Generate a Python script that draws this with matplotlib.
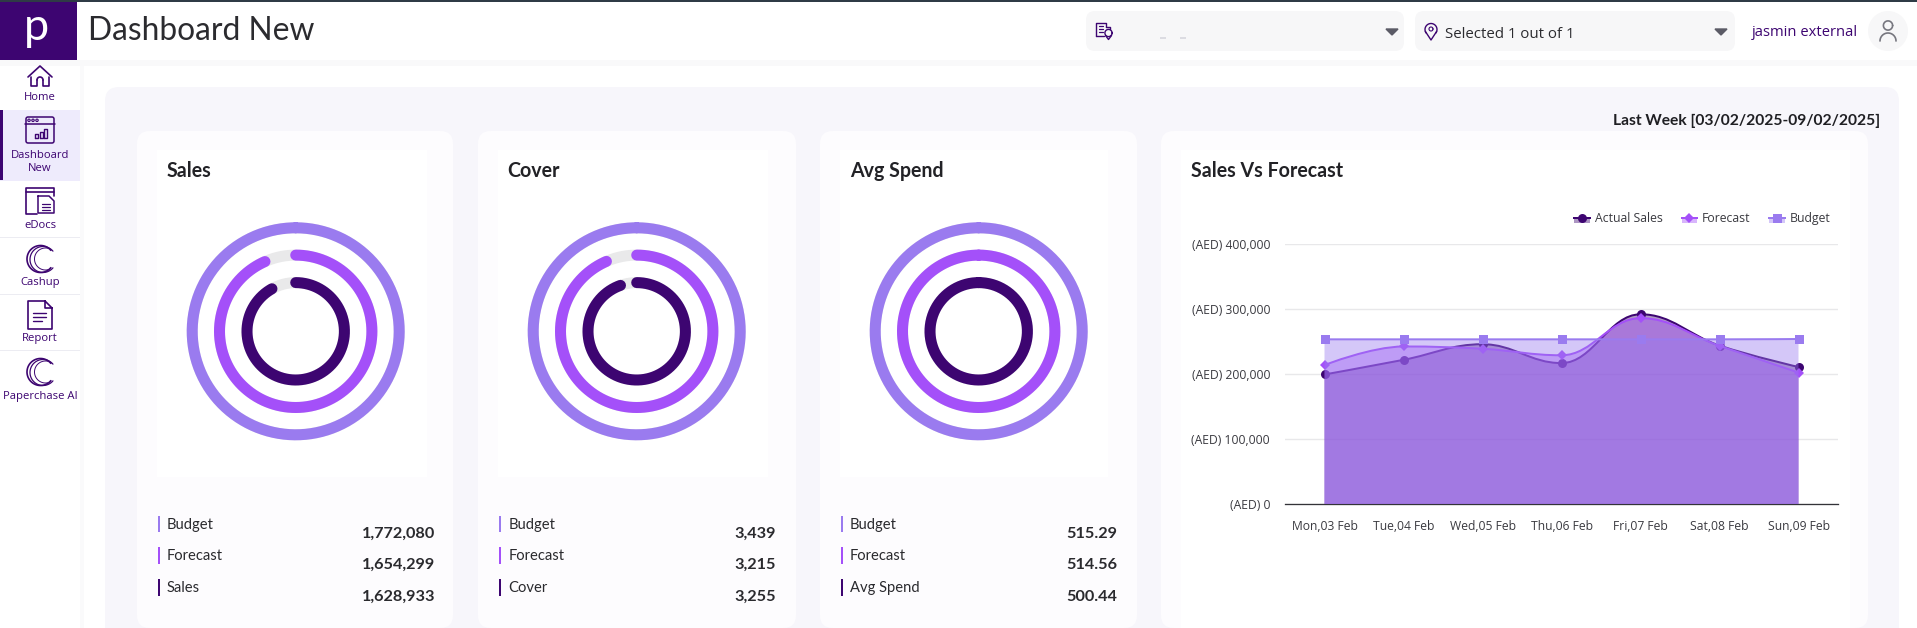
import numpy as np
import matplotlib
matplotlib.use("Agg")
import matplotlib.pyplot as plt
from matplotlib.path import Path
from matplotlib.patches import PathPatch, FancyBboxPatch, Rectangle, Circle
from matplotlib.lines import Line2D
from matplotlib.legend_handler import HandlerBase
from matplotlib.ticker import FuncFormatter

W, H = 1917, 628
PURPLE = "#3d0571"; VIOLET = "#a450f9"; LAV = "#9a7bef"; INK = "#2b2b2f"

# ---------- data ----------
days = ["Mon,03 Feb", "Tue,04 Feb", "Wed,05 Feb", "Thu,06 Feb", "Fri,07 Feb", "Sat,08 Feb", "Sun,09 Feb"]
actual_sales = [199500, 222000, 246000, 217000, 292000, 244000, 211000]
forecast = [214000, 242500, 239000, 229000, 286000, 243500, 202500]
budget = [253500, 253500, 253500, 253500, 253500, 253500, 254000]
y_ticks = [0, 100000, 200000, 300000, 400000]

card_titles = ["Sales", "Cover", "Avg Spend"]
row_labels = [["Budget", "Forecast", "Sales"], ["Budget", "Forecast", "Cover"], ["Budget", "Forecast", "Avg Spend"]]
row_values = [["1,772,080", "1,654,299", "1,628,933"], ["3,439", "3,215", "3,255"], ["515.29", "514.56", "500.44"]]
ring_percents = [[100, 93.4, 91.9], [100, 93.5, 94.6], [100, 100, 100]]
nav_items = ["Home", "Dashboard\nNew", "eDocs", "Cashup", "Report", "Paperchase AI"]

plt.rcParams['font.family'] = ['Lato', 'DejaVu Sans']
fig = plt.figure(figsize=(W / 100, H / 100), dpi=100, facecolor="white")

def px(v):
    return v * 0.72

def axes_px(x0, y0, x1, y1, **kw):
    return fig.add_axes([x0 / W, 1 - y1 / H, (x1 - x0) / W, (y1 - y0) / H], **kw)

bg = axes_px(0, 0, W, H)
bg.set_xlim(0, W); bg.set_ylim(H, 0); bg.axis("off")

def rect(x0, y0, x1, y1, c, z=1, alpha=None):
    bg.add_patch(Rectangle((x0, y0), x1 - x0, y1 - y0, fc=c, ec="none", zorder=z, alpha=alpha))

def rrect(x0, y0, x1, y1, r, c, z=1):
    bg.add_patch(FancyBboxPatch((x0 + r, y0 + r), x1 - x0 - 2 * r, y1 - y0 - 2 * r,
                                boxstyle=f"round,pad={r},rounding_size={r}", fc=c, ec="none", zorder=z))

def stroke(xs, ys, lw=1.1, c=PURPLE, z=6, **kw):
    bg.plot(xs, ys, color=c, lw=lw, zorder=z, solid_capstyle="round", solid_joinstyle="round", **kw)

def text(x, y, s, size, c=INK, ha="left", weight="normal", family=None, z=7):
    bg.text(x, y, s, fontsize=px(size), color=c, ha=ha, va="center", fontweight=weight,
            family=family or ['Lato', 'DejaVu Sans'], zorder=z)

# ---------- page chrome ----------
rect(0, 60, W, 66, "#f6f6f8", 1, 0.6)
rect(80, 66, 84, H, "#f8f8fa", 1, 0.7)
rrect(105, 87, 1899, 700, 14, "#f7f6fb", 2)
for x0, x1 in [(137, 453), (478, 796), (820, 1137), (1161, 1868)]:
    rrect(x0, 131, x1, 628, 13, "#fdfcfe", 3)
for x0, x1 in [(157, 427), (498, 768), (840, 1108)]:
    rect(x0, 150, x1, 477, "#ffffff", 3.5)
rect(1181, 150, 1850, 628, "#ffffff", 3.5)

rect(0, 0, W, 60, "white", 4)
rect(0, 0, W, 2, "#2f3b46", 5)
rect(0, 2, 77, 60, PURPLE, 5)
text(36, 28, "p", 45, "white", "center", family=['Lato'])
text(88, 30.5, "Dashboard New", 31.8, INK)

rrect(1086, 11, 1404, 51, 9, "#f7f7f8", 5)
rrect(1415, 11, 1735, 51, 9, "#f7f7f8", 5)
text(1445, 34.5, "Selected 1 out of 1", 15, INK, family=['Open Sans'])
text(1752, 33, "jasmin external", 14.8, PURPLE, family=['Open Sans'])
bg.add_patch(Circle((1888, 31), 20, fc="#f7f7f8", ec="none", zorder=5))
for xc in (1392, 1721):
    bg.fill([xc - 6, xc + 6, xc], [29, 29, 35], color="#5b5b66", zorder=6)
for xc in (1163, 1183):
    rect(xc - 3, 37, xc + 3, 38.5, "#dcdce2", 6)
# building and pin icons
stroke([1096, 1096, 1106, 1106], [36, 23, 23, 27], 1.0)
stroke([1106, 1110, 1110], [27, 27, 29], 1.0)
stroke([1096, 1104], [36, 36], 1.0)
for yy in (26, 29, 32):
    stroke([1099, 1103], [yy, yy], 0.9)
t = np.linspace(0, 2 * np.pi, 30)
stroke(1108.5 + 3.6 * np.cos(t), 33 + 3.6 * np.sin(t), 1.0)
stroke([1105.5, 1108.5, 1111.5], [35.5, 39.5, 35.5], 1.0)
t = np.linspace(-0.2 * np.pi, 1.2 * np.pi, 30)
stroke(1431 + 6 * np.cos(t), 29.5 - 6 * np.sin(t), 1.0)
stroke([1425.4, 1431, 1436.6], [31.5, 40, 31.5], 1.0)
t = np.linspace(0, 2 * np.pi, 30)
stroke(1431 + 2 * np.cos(t), 29 + 2 * np.sin(t), 0.8)
# avatar
t = np.linspace(0, 2 * np.pi, 40)
stroke(1888 + 4.6 * np.cos(t), 25.5 + 4.6 * np.sin(t), 1.2, "#77777f")
t = np.linspace(np.pi, 2 * np.pi, 30)
stroke(1888 + 8 * np.cos(t), 41 + 8 * np.sin(t), 1.2, "#77777f")

text(1880, 120.5, "Last Week [03/02/2025-09/02/2025]", 15.6, "#1f1f23", "right", "bold")

# ---------- sidebar ----------
rect(0, 110, 80, 181, "#eeebfc", 2)
rect(0, 110, 3, 180, PURPLE, 3)
for yy in (237, 294, 350):
    rect(0, yy, 80, yy + 1, "#ececf2", 2)
nav_y = [98, 162, 226, 283, 339, 396]
for s, yy in zip(nav_items, nav_y):
    bg.text(40, yy, s, fontsize=px(11.3), color=PURPLE, ha="center", va="center", linespacing=1.25,
            family=['Open Sans'], zorder=7)
# home
stroke([28, 40, 52], [77, 66, 77], 1.2)
stroke([31, 31, 37, 37], [77, 86, 86, 80], 1.2)
stroke([49, 49, 43, 43], [77, 86, 86, 80], 1.2)
t = np.linspace(0, np.pi, 12)
stroke(40 + 3 * np.cos(t), 80 - 3 * np.sin(t), 1.2)
# dashboard
bg.add_patch(FancyBboxPatch((26, 117), 28, 26, boxstyle="round,pad=0,rounding_size=2", fc="none", ec=PURPLE, lw=1.1, zorder=6))
stroke([25, 55], [124, 124])
for x_ in (29, 33, 37):
    bg.add_patch(Circle((x_, 120.3), 1.2, fc="none", ec=PURPLE, lw=0.8, zorder=6))
for x_, h_ in ((35, 4), (40, 6), (44, 9)):
    stroke([x_, x_, x_ + 2.5, x_ + 2.5, x_], [137.5, 137.5 - h_, 137.5 - h_, 137.5, 137.5], 1)
# edocs
stroke([37, 26, 26, 54, 54], [214, 214, 188, 188, 196], 1.2)
stroke([26, 54], [192, 192], 1.2)
stroke([38, 49, 54, 54, 38, 38], [196, 196, 201, 213, 213, 196], 1.1)
for yy in (204, 207, 210):
    stroke([42, 50], [yy, yy], 0.9)
# C marks
for yc in (259, 372):
    t = np.radians(np.linspace(40, 320, 60))
    stroke(40.5 + 13.5 * np.cos(t), yc - 13.5 * np.sin(t), 1.2)
    stroke(43 + 13 * np.cos(t), yc - 13 * np.sin(t) + 0.5, 0.9)
    stroke(45.5 + 11 * np.cos(t[8:-8]), yc - 11 * np.sin(t[8:-8]), 0.7)
# report
stroke([45, 28, 28, 52, 52, 45, 45, 52], [301, 301, 329, 329, 308, 301, 308, 308], 1.2)
for yy, x1_ in ((313, 46), (317, 46), (321, 42)):
    stroke([33, x1_], [yy, yy], 1)

# ---------- KPI cards ----------
title_x = [167, 507.5, 850]
label_x = [166.8, 508.2, 849.7]
bar_x = [158, 499, 841]
value_x = [435, 776, 1117]
ring_cx = [295.7, 636.7, 978.7]
ring_cy = 331.3
row_lab_y = [525, 556, 588]
row_val_y = [534, 565, 597]
row_bar = [(516, 532), (547, 564), (579, 596)]
ring_colors = [LAV, VIOLET, PURPLE]
ring_radii = [103.5, 76.2, 48.7]
ring_px = 11

for i in range(3):
    text(title_x[i], 171, card_titles[i], 19.6, "#222226", weight="bold")
    for j in range(3):
        rect(bar_x[i], row_bar[j][0], bar_x[i] + 2, row_bar[j][1], ring_colors[j], 5)
        text(label_x[i], row_lab_y[j], row_labels[i][j], 14.7, "#2a2a2e")
        text(value_x[i], row_val_y[j], row_values[i][j], 16.2, "#2a2a2e", "right", "bold")
    a = axes_px(ring_cx[i] - 120, ring_cy - 120, ring_cx[i] + 120, ring_cy + 120)
    a.set_xlim(-120, 120); a.set_ylim(-120, 120); a.axis("off"); a.patch.set_alpha(0)
    for pct, r, c in zip(ring_percents[i], ring_radii, ring_colors):
        th = np.linspace(0, 2 * np.pi, 360)
        a.plot(r * np.sin(th), r * np.cos(th), color="#e9e9ea", lw=px(ring_px), solid_capstyle="butt")
        th = np.linspace(0, 2 * np.pi * pct / 100, 360)
        a.plot(r * np.sin(th), r * np.cos(th), color=c, lw=px(ring_px), solid_capstyle="round")

# ---------- Sales vs Forecast ----------
text(1191, 171, "Sales Vs Forecast", 19.6, "#222226", weight="bold")
ax = axes_px(1285, 244, 1838, 504.3)
ax.set_xlim(-0.5, 6.5); ax.set_ylim(0, 400000)
ax.patch.set_alpha(0)

def spline_path(xs, ys):
    """Smooth bezier through the points, closed form used by spline charts."""
    n = len(xs)
    s = 1.5; d = s + 1
    verts = [(xs[0], ys[0])]; codes = [Path.MOVETO]
    lc = [None] * n; rc = [None] * n
    for i in range(n):
        if i == 0 or i == n - 1:
            lc[i] = rc[i] = (xs[i], ys[i])
            continue
        lx = (s * xs[i] + xs[i - 1]) / d; rx = (s * xs[i] + xs[i + 1]) / d
        ly = (s * ys[i] + ys[i - 1]) / d; ry = (s * ys[i] + ys[i + 1]) / d
        corr = (ry - ly) * (rx - xs[i]) / (rx - lx) + ys[i] - ry
        ly += corr; ry += corr
        if ly > max(ys[i - 1], ys[i]):
            ly = max(ys[i - 1], ys[i]); ry = 2 * ys[i] - ly
        elif ly < min(ys[i - 1], ys[i]):
            ly = min(ys[i - 1], ys[i]); ry = 2 * ys[i] - ly
        if ry > max(ys[i + 1], ys[i]):
            ry = max(ys[i + 1], ys[i]); ly = 2 * ys[i] - ry
        elif ry < min(ys[i + 1], ys[i]):
            ry = min(ys[i + 1], ys[i]); ly = 2 * ys[i] - ry
        lc[i] = (lx, ly); rc[i] = (rx, ry)
    for i in range(1, n):
        verts += [rc[i - 1], lc[i], (xs[i], ys[i])]
        codes += [Path.CURVE4] * 3
    return verts, codes

xpos = np.arange(len(days))
series = [("Actual Sales", actual_sales, PURPLE, "o", 9),
          ("Forecast", forecast, VIOLET, "D", 7.5),
          ("Budget", budget, LAV, "s", 9)]
ALPHA = 0.42
ax.set_axisbelow(True)
ax.grid(axis="y", color="#e8e8ea", lw=1)
for k, (name, vals, col, mk, ms) in enumerate(series):
    v, c = spline_path(list(xpos), list(vals))
    fv = v + [(xpos[-1], 0), (xpos[0], 0), v[0]]
    fc = c + [Path.LINETO, Path.LINETO, Path.CLOSEPOLY]
    ax.add_patch(PathPatch(Path(v, c), fc="none", ec=col, lw=px(2), zorder=3 + k))
    ax.plot(xpos, vals, ls="none", marker=mk, ms=px(ms), color=col, mew=0, zorder=3 + k, clip_on=False)
    ax.add_patch(PathPatch(Path(fv, fc), fc=col, ec="none", alpha=ALPHA, zorder=3 + k))

ax.set_xticks(xpos, days)
ax.set_yticks(y_ticks)
ax.yaxis.set_major_formatter(FuncFormatter(lambda v, _: f"(AED) {int(v):,}"))
ax.tick_params(axis="both", length=0, labelsize=px(12.1), labelcolor="#3a3a40")
ax.tick_params(axis="y", pad=px(15))
ax.tick_params(axis="x", pad=px(16))
for lab in ax.get_xticklabels() + ax.get_yticklabels():
    lab.set_family(['Open Sans'])
for sp in ("top", "left", "right"):
    ax.spines[sp].set_visible(False)
ax.spines["bottom"].set_color("#333338"); ax.spines["bottom"].set_linewidth(px(1.3))

class AreaHandler(HandlerBase):
    def create_artists(self, legend, orig, xd, yd, w, h, fs, trans):
        mid = h / 2 - yd
        r = Rectangle((-xd, -yd), w, h / 2, fc=orig.get_color(), ec="none", alpha=ALPHA, transform=trans)
        l = Line2D([-xd, w - xd], [mid, mid], color=orig.get_color(), lw=px(2), transform=trans)
        m = Line2D([w / 2 - xd], [mid], marker=orig.get_marker(), ms=orig.get_markersize(), mew=0,
                   color=orig.get_color(), ls="none", transform=trans)
        return [r, l, m]

handles = [Line2D([], [], color=col, marker=mk, ms=px(ms), ls="none") for _, _, col, mk, ms in series]
leg = ax.legend(handles, [s[0] for s in series], ncol=3, frameon=False,
                handler_map={Line2D: AreaHandler()}, prop={'family': 'Open Sans', 'size': px(12.3)},
                loc="center right", bbox_to_anchor=((1830.5 - 1285) / 553, 1 + (242.5 - 217) / 260.3),
                borderaxespad=0, borderpad=0, handlelength=1.25, handleheight=1.0,
                handletextpad=0.4, columnspacing=1.55, labelcolor="#3a3a40")

fig.savefig("out.png", dpi=100, facecolor="white")
